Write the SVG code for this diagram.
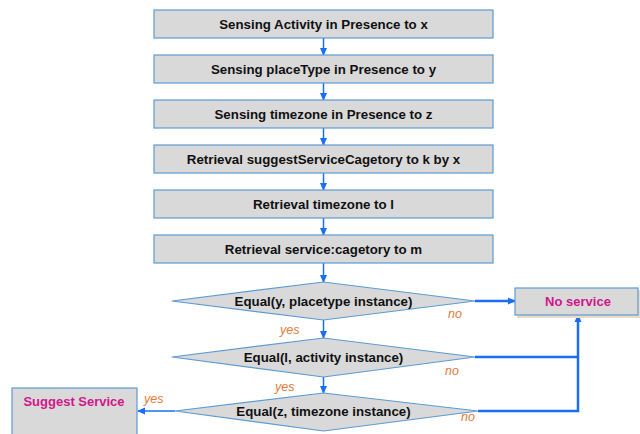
<svg xmlns="http://www.w3.org/2000/svg" width="640" height="434" viewBox="0 0 640 434">
<style>
.box{fill:#D9D9D9;stroke:#5B9BD5;stroke-width:1.2}
.sh{fill:#E8DCC8}
.t{font-family:"Liberation Sans",Arial,sans-serif;font-weight:bold;font-size:13.3px;fill:#111;text-anchor:middle}
.m{font-family:"Liberation Sans",Arial,sans-serif;font-weight:bold;font-size:13px;fill:#D0168C;text-anchor:middle}
.lb{font-family:"Liberation Sans",Arial,sans-serif;font-style:italic;font-size:12.5px;fill:#E07B39}
.c{fill:none;stroke:#1A6EF5;stroke-width:1.5}
.ct{fill:none;stroke:#1A6EF5;stroke-width:2.5}
</style>
<defs>
<marker id="ah" markerWidth="8" markerHeight="8" refX="7" refY="4" orient="auto" markerUnits="userSpaceOnUse">
<path d="M0,0.5 L8,4 L0,7.5 Z" fill="#1A6EF5"/>
</marker>
</defs>
<rect width="640" height="434" fill="#fff"/>
<g id="connectors">
<line class="c" x1="323.5" y1="38" x2="323.5" y2="55" marker-end="url(#ah)"/>
<line class="c" x1="323.5" y1="83" x2="323.5" y2="100" marker-end="url(#ah)"/>
<line class="c" x1="323.5" y1="128" x2="323.5" y2="145" marker-end="url(#ah)"/>
<line class="c" x1="323.5" y1="173" x2="323.5" y2="190" marker-end="url(#ah)"/>
<line class="c" x1="323.5" y1="218" x2="323.5" y2="235" marker-end="url(#ah)"/>
<line class="c" x1="323.5" y1="263" x2="323.5" y2="282" marker-end="url(#ah)"/>
<line class="c" x1="323.5" y1="320" x2="323.5" y2="338" marker-end="url(#ah)"/>
<line class="c" x1="323.5" y1="377" x2="323.5" y2="393" marker-end="url(#ah)"/>
<line class="ct" x1="475" y1="301" x2="515" y2="301" marker-end="url(#ah)"/>
<polyline class="ct" points="475,357 578,357"/>
<polyline class="ct" points="478,411 578,411 578,315" marker-end="url(#ah)"/>
<line class="c" x1="175" y1="411" x2="138" y2="411" marker-end="url(#ah)"/>
<text class="lb" x="448" y="318">no</text>
<text class="lb" x="445" y="375">no</text>
<text class="lb" x="461" y="421">no</text>
<text class="lb" x="280" y="334">yes</text>
<text class="lb" x="275" y="391">yes</text>
<text class="lb" x="144" y="403">yes</text>
</g>
<g id="n1"><rect class="box" x="154" y="10" width="339" height="28"/><text class="t" x="323.5" y="28.8">Sensing Activity in Presence to x</text></g>
<g id="n2"><rect class="box" x="154" y="55" width="339" height="28"/><text class="t" x="323.5" y="73.8">Sensing placeType in Presence to y</text></g>
<g id="n3"><rect class="box" x="154" y="100" width="339" height="28"/><text class="t" x="323.5" y="118.8">Sensing timezone in Presence to z</text></g>
<g id="n4"><rect class="box" x="154" y="145" width="339" height="28"/><text class="t" x="323.5" y="163.8">Retrieval suggestServiceCagetory to k by x</text></g>
<g id="n5"><rect class="box" x="154" y="190" width="339" height="28"/><text class="t" x="323.5" y="208.8">Retrieval timezone to l</text></g>
<g id="n6"><rect class="box" x="154" y="235" width="339" height="28"/><text class="t" x="323.5" y="253.8">Retrieval service:cagetory to m</text></g>
<g id="d1"><polygon class="box" points="172,301 323.5,282 475,301 323.5,320"/><text class="t" x="323.5" y="305.8">Equal(y, placetype instance)</text></g>
<g id="d2"><polygon class="box" points="172,357 323.5,338 475,357 323.5,377"/><text class="t" x="323.5" y="361.8">Equal(l, activity instance)</text></g>
<g id="d3"><polygon class="box" points="175,411 323.5,393 478,411 323.5,431"/><text class="t" x="323.5" y="415.8">Equal(z, timezone instance)</text></g>
<g id="noservice"><rect class="sh" x="517" y="290" width="123" height="28"/><rect class="box" x="515" y="288" width="123" height="27"/><text class="m" x="578" y="306">No service</text></g>
<g id="suggest"><rect class="box" x="12" y="388" width="125" height="50"/><text class="m" x="74" y="406">Suggest Service</text></g>
</svg>
